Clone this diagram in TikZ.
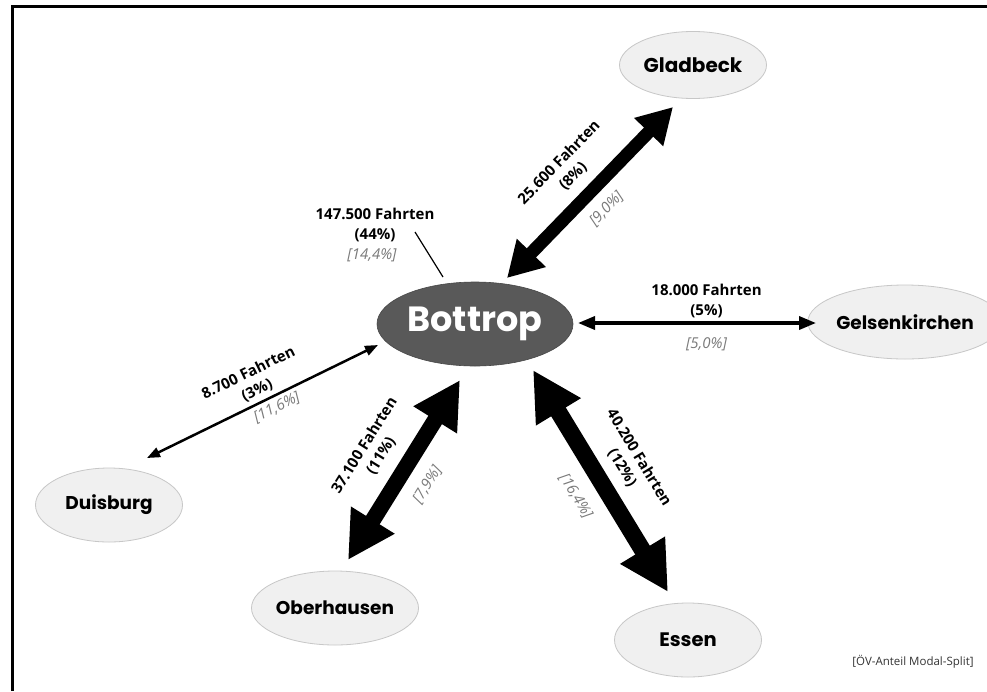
\documentclass[tikz,border=0pt]{standalone}
\usepackage{fontspec}
\setmainfont{Open Sans}
\newfontfamily\cityfont{Poppins}
\usetikzlibrary{arrows.meta,shapes.geometric}
\definecolor{bogray}{gray}{0.35}
\definecolor{cityfill}{gray}{0.94}
\definecolor{cityline}{gray}{0.78}
\definecolor{pctgray}{gray}{0.48}
\tikzset{
  city/.style={ellipse, draw=cityline, line width=0.8pt, fill=cityfill, inner sep=0pt,
    minimum width=147pt, minimum height=74pt, font=\cityfont\bfseries\fontsize{18.5}{20}\selectfont},
  center/.style={ellipse, fill=bogray, draw=bogray!80!black, line width=0.6pt, inner sep=0pt,
    minimum width=196pt, minimum height=84pt, text=white, font=\cityfont\bfseries\fontsize{35}{40}\selectfont},
  trips/.style={font=\bfseries\fontsize{15}{19.5}\selectfont, align=center, inner sep=0pt},
  share/.style={font=\itshape\fontsize{15}{17}\selectfont, text=pctgray, inner sep=0pt},
}
\begin{document}
\begin{tikzpicture}[x=1pt,y=-1pt]
\useasboundingbox (0,0) rectangle (987,691);
\fill[white] (0,0) rectangle (987,691);
\draw[line width=2.5pt] (12.5,691) |- (987,6.5);

% nodes
\node[center] (bo) at (475,324) {Bottrop};
\node[city, minimum height=67pt, font=\cityfont\bfseries\fontsize{20}{22}\selectfont] (gl) at (693,65) {Gladbeck};
\node[city] (ge) at (905,322) {Gelsenkirchen};
\node[city] (du) at (109,505) {Duisburg};
\node[city] (ob) at (335,608) {Oberhausen};
\node[city, font=\cityfont\bfseries\fontsize{19.5}{22}\selectfont] (es) at (688,640) {Essen};

% arrow end points
\coordinate (glA) at (507,278); \coordinate (glB) at (673,107);
\coordinate (geA) at (578,323); \coordinate (geB) at (816,323);
\coordinate (duA) at (147,458); \coordinate (duB) at (378,345);
\coordinate (obA) at (348,560); \coordinate (obB) at (460,380);
\coordinate (esA) at (533,370); \coordinate (esB) at (668,592);

% Gladbeck
\draw[line width=13pt, {Triangle[length=35pt,width=38pt]}-{Triangle[length=35pt,width=38pt]}]
  (glA) -- (glB)
  node[midway, sloped, above=10pt, trips] {25.600 Fahrten\\(8\%)}
  node[midway, sloped, below=10pt, share] {[9,0\%]};
% Gelsenkirchen
\draw[line width=3.5pt, {Triangle[length=17pt,width=13pt]}-{Triangle[length=17pt,width=13pt]}]
  (geA) -- (geB)
  node[pos=0.54, above=3.5pt, trips] {18.000 Fahrten\\(5\%)}
  node[pos=0.54, below=13pt, share] {[5,0\%]};
% Duisburg
\draw[line width=2.5pt, {Triangle[length=13pt,width=10pt]}-{Triangle[length=13pt,width=10pt]}]
  (duA) -- (duB)
  node[midway, sloped, above=4pt, trips] {8.700 Fahrten\\(3\%)}
  node[pos=0.54, sloped, below=4pt, share] {[11,6\%]};
% Oberhausen
\draw[line width=16pt, {Triangle[length=47pt,width=48pt]}-{Triangle[length=47pt,width=48pt]}]
  (obA) -- (obB)
  node[midway, sloped, above=12pt, trips] {37.100 Fahrten\\(11\%)}
  node[midway, sloped, below=13pt, share] {[7,9\%]};
% Essen
\draw[line width=17pt, {Triangle[length=49pt,width=49pt]}-{Triangle[length=49pt,width=49pt]}]
  (esA) -- (esB)
  node[midway, sloped, above=10pt, trips] {40.200 Fahrten\\(12\%)}
  node[midway, sloped, below=14pt, share] {[16,4\%]};

% Bottrop internal trips
\node[trips] (bolbl) at (375,225) {147.500 Fahrten\\(44\%)};
\node[share] (boshare) at (372,255) {[14,4\%]};
\coordinate (bl1) at (415,232); \coordinate (bl2) at (443,277);
\draw[line width=1.2pt] (bl1) -- (bl2);

% footnote
\node[font=\fontsize{11.5}{13}\selectfont, text=black!80, inner sep=0pt] (note) at (913,662) {[ÖV-Anteil Modal-Split]};
\end{tikzpicture}
\end{document}
